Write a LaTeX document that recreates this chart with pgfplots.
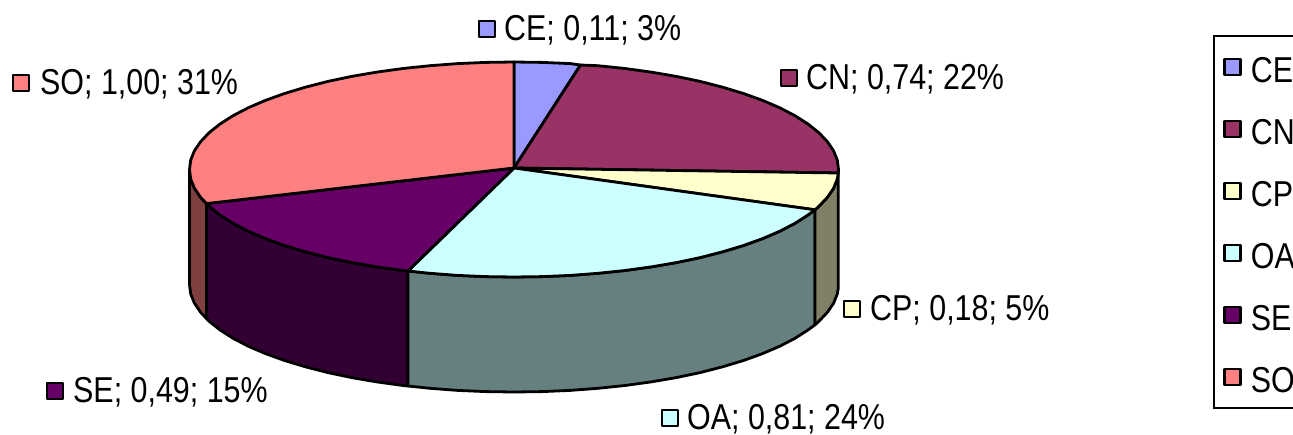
\documentclass[border=0pt]{standalone}
\usepackage{fontspec}
\setmainfont[FakeStretch=0.845]{Liberation Sans}
\usepackage{pgfplots}
\pgfplotsset{compat=1.18}
\definecolor{ce}{RGB}{153,153,255}
\definecolor{cn}{RGB}{153,51,102}
\definecolor{cp}{RGB}{255,255,204}
\definecolor{oa}{RGB}{204,255,255}
\definecolor{se}{RGB}{102,0,102}
\definecolor{so}{RGB}{255,128,128}
\definecolor{cpside}{RGB}{128,128,102}
\definecolor{oaside}{RGB}{102,128,128}
\definecolor{seside}{RGB}{51,0,51}
\definecolor{soside}{RGB}{128,64,64}
\newcommand{\lbl}{\fontsize{36}{36}\selectfont}

\begin{document}
\begin{tikzpicture}
\path[use as bounding box] (0,0) rectangle (1293pt,434pt);
\clip (0,0) rectangle (1293pt,434pt);
\begin{axis}[scale only axis, width=1293pt, height=434pt, hide axis, clip=false,
  xmin=0, xmax=1293, ymin=0, ymax=434, y dir=reverse,
  area legend,
  legend image code/.code={\draw[#1, line width=2.5pt] (0pt,-8pt) rectangle (16pt,8pt); \path (20pt,0pt);},
  legend cell align=left,
  legend style={at={(0.9381,0.9204)}, anchor=north west, draw=black, line width=2.5pt,
    font=\lbl, inner xsep=9pt, inner ysep=15pt, row sep=30pt,
    nodes={inner xsep=5pt, inner ysep=0pt, text height=32pt, text depth=0pt},
    /tikz/every even column/.append style={column sep=0pt}},
  every axis plot/.append style={draw=black, line width=2.8pt, line join=round}]

% side walls, forget plot keeps them out of the legend
\addplot[fill=soside, forget plot] coordinates {(189.5,169.5)(190.7,178.9)(194.4,188.2)(200.6,197.3)(206.5,203.6)
  (206.5,318.6)(200.6,312.3)(194.4,303.2)(190.7,293.9)(189.5,284.5)} -- cycle;
\addplot[fill=seside, forget plot] coordinates {(408,271)(403,270.5)(376.9,266.9)(351.7,262.6)(327.9,257.6)(305.4,251.8)(284.5,245.5)(265.4,238.6)(248.2,231.2)(233,223.3)(219.9,214.9)(209.1,206.3)(206.5,203.6)
  (206.5,318.6)(209.1,321.3)(219.9,329.9)(233,338.3)(248.2,346.2)(265.4,353.6)(284.5,360.5)(305.4,366.8)(327.9,372.6)(351.7,377.6)(376.9,381.9)(403,385.5)(408,386)} -- cycle;
\addplot[fill=oaside, forget plot] coordinates {(815,209.8)(808.1,214.9)(795,223.3)(779.8,231.2)(762.6,238.6)(743.5,245.5)(722.6,251.8)(700.1,257.6)(676.3,262.6)(651.1,266.9)(625,270.5)(598,273.3)(570.3,275.4)(542.3,276.6)(514,277)(485.7,276.6)(457.7,275.4)(430,273.3)(408,271)
  (408,386)(430,388.3)(457.7,390.4)(485.7,391.6)(514,392)(542.3,391.6)(570.3,390.4)(598,388.3)(625,385.5)(651.1,381.9)(676.3,377.6)(700.1,372.6)(722.6,366.8)(743.5,360.5)(762.6,353.6)(779.8,346.2)(795,338.3)(808.1,329.9)(815,324.8)} -- cycle;
\addplot[fill=cpside, forget plot] coordinates {(838.3,173)(837.3,178.9)(833.6,188.2)(827.4,197.3)(818.9,206.3)(815,209.8)
  (815,324.8)(818.9,321.3)(827.4,312.3)(833.6,303.2)(837.3,293.9)(838.3,288)} -- cycle;

% top faces
\addplot[fill=ce] coordinates {(514,168)(514,62)(542.3,62.4)(570.3,63.6)(580.5,65)} -- cycle;
\addlegendentry{CE}
\addplot[fill=cn] coordinates {(514,168)(580.5,65)(598,65.7)(625,68.5)(651.1,72.1)(676.3,76.4)(700.1,81.4)(722.6,87.2)(743.5,93.5)(762.6,100.4)(779.8,107.8)(795,115.7)(808.1,124.1)(818.9,132.7)(827.4,141.7)(833.6,150.8)(837.3,160.1)(838.5,169.5)(838.3,173)} -- cycle;
\addlegendentry{CN}
\addplot[fill=cp] coordinates {(514,168)(838.3,173)(837.3,178.9)(833.6,188.2)(827.4,197.3)(818.9,206.3)(815,209.8)} -- cycle;
\addlegendentry{CP}
\addplot[fill=oa] coordinates {(514,168)(815,209.8)(808.1,214.9)(795,223.3)(779.8,231.2)(762.6,238.6)(743.5,245.5)(722.6,251.8)(700.1,257.6)(676.3,262.6)(651.1,266.9)(625,270.5)(598,273.3)(570.3,275.4)(542.3,276.6)(514,277)(485.7,276.6)(457.7,275.4)(430,273.3)(408,271)} -- cycle;
\addlegendentry{OA}
\addplot[fill=se] coordinates {(514,168)(408,271)(403,270.5)(376.9,266.9)(351.7,262.6)(327.9,257.6)(305.4,251.8)(284.5,245.5)(265.4,238.6)(248.2,231.2)(233,223.3)(219.9,214.9)(209.1,206.3)(206.5,203.6)} -- cycle;
\addlegendentry{SE}
\addplot[fill=so] coordinates {(514,168)(206.5,203.6)(200.6,197.3)(194.4,188.2)(190.7,178.9)(189.5,169.5)(190.7,160.1)(194.4,150.8)(200.6,141.7)(209.1,132.7)(219.9,124.1)(233,115.7)(248.2,107.8)(265.4,100.4)(284.5,93.5)(305.4,87.2)(327.9,81.4)(351.7,76.4)(376.9,72.1)(403,68.5)(430,65.7)(457.7,63.6)(485.7,62.4)(514,62)} -- cycle;
\addlegendentry{SO}

% data label keys
\addplot[only marks, mark=square*, mark size=8pt, mark options={fill=ce, draw=black, line width=2.5pt}, forget plot] coordinates {(487,29)};
\addplot[only marks, mark=square*, mark size=8pt, mark options={fill=cn, draw=black, line width=2.5pt}, forget plot] coordinates {(789,78)};
\addplot[only marks, mark=square*, mark size=8pt, mark options={fill=cp, draw=black, line width=2.5pt}, forget plot] coordinates {(852,309)};
\addplot[only marks, mark=square*, mark size=8pt, mark options={fill=oa, draw=black, line width=2.5pt}, forget plot] coordinates {(670,418)};
\addplot[only marks, mark=square*, mark size=8pt, mark options={fill=se, draw=black, line width=2.5pt}, forget plot] coordinates {(55,391)};
\addplot[only marks, mark=square*, mark size=8pt, mark options={fill=so, draw=black, line width=2.5pt}, forget plot] coordinates {(21,83)};

\node[anchor=base west, inner sep=0pt, font=\lbl] at (axis cs:504,40) {CE; 0,11; 3\%};
\node[anchor=base west, inner sep=0pt, font=\lbl] at (axis cs:806,89) {CN; 0,74; 22\%};
\node[anchor=base west, inner sep=0pt, font=\lbl] at (axis cs:870,320) {CP; 0,18; 5\%};
\node[anchor=base west, inner sep=0pt, font=\lbl] at (axis cs:687,429) {OA; 0,81; 24\%};
\node[anchor=base west, inner sep=0pt, font=\lbl] at (axis cs:73,402) {SE; 0,49; 15\%};
\node[anchor=base west, inner sep=0pt, font=\lbl] at (axis cs:40,94) {SO; 1,00; 31\%};
\end{axis}
\end{tikzpicture}
\end{document}
